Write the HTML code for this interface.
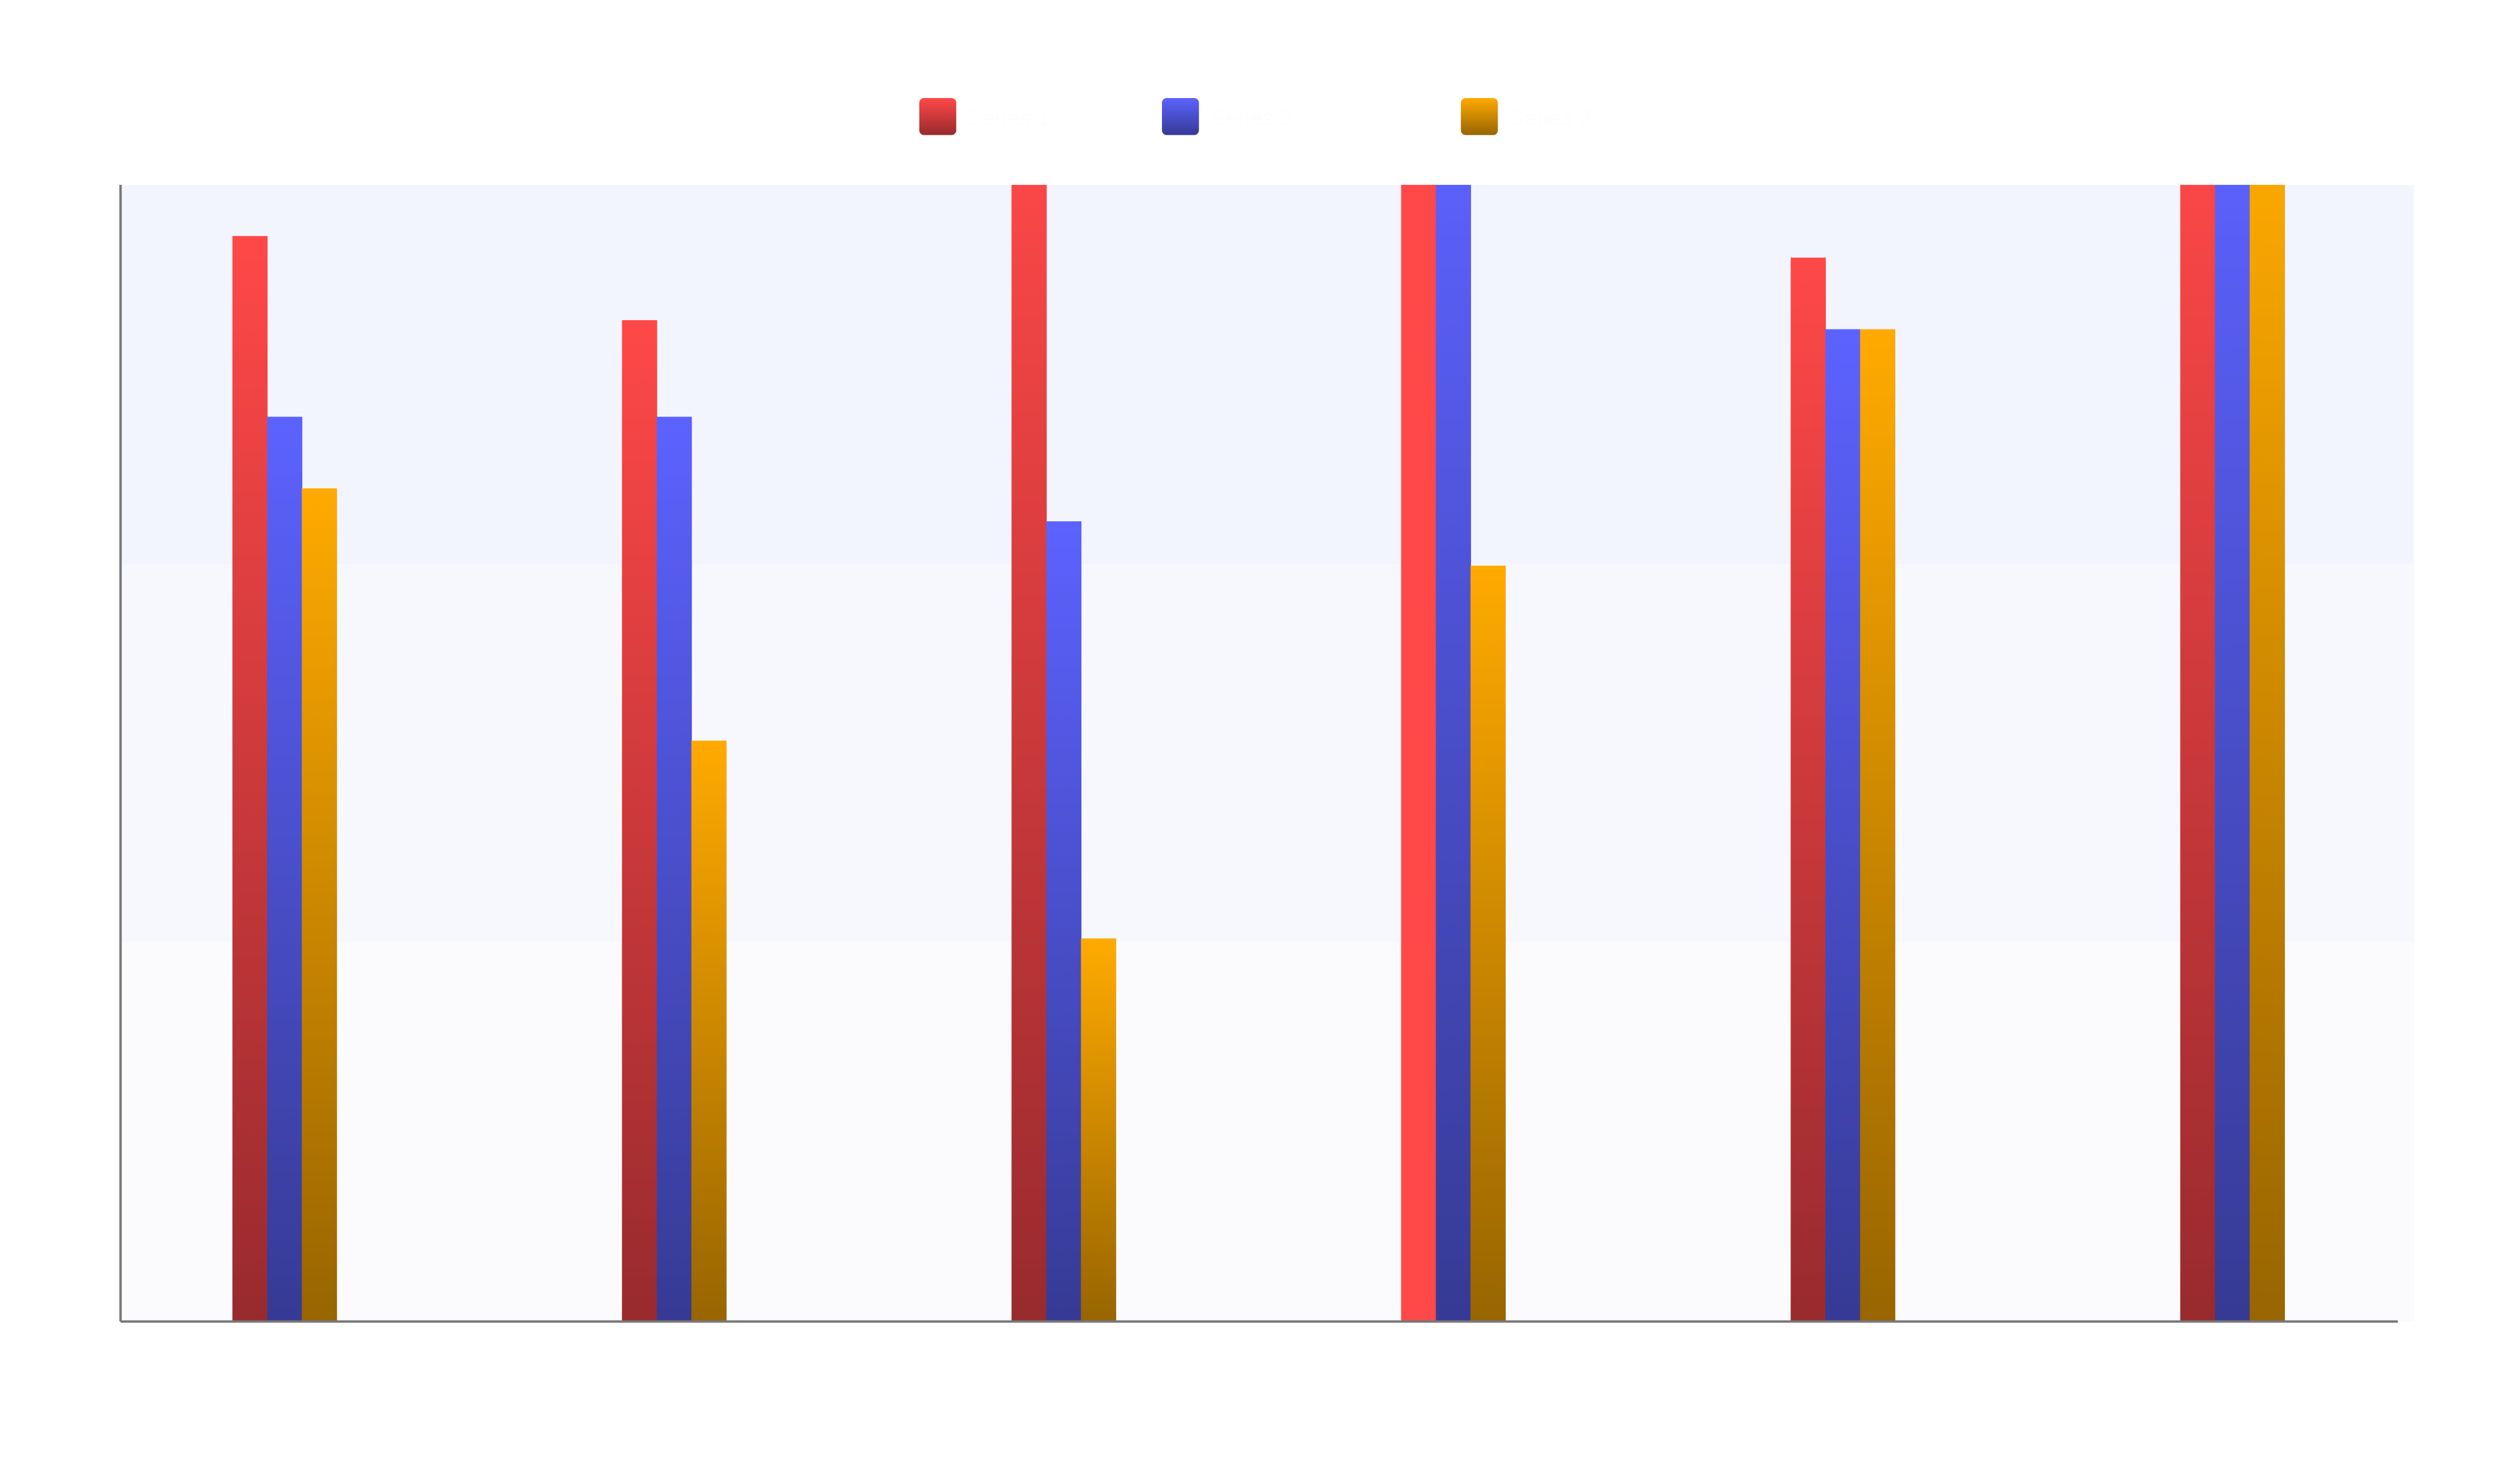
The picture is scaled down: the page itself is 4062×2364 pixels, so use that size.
<!DOCTYPE html>
<html><head><meta charset="utf-8"><style>
html,body{margin:0;padding:0;background:#fff;}
svg{display:block;font-family:"Liberation Sans",sans-serif;}
</style></head><body>
<svg id="chart" width="4062" height="2364" viewBox="0 0 1568 912.5" preserveAspectRatio="none" xmlns="http://www.w3.org/2000/svg">
<defs>
<linearGradient id="gr" x1="0" y1="0" x2="0" y2="1"><stop offset="0" stop-color="#ff4848"/><stop offset="1" stop-color="#982a2e"/></linearGradient>
<linearGradient id="gb" x1="0" y1="0" x2="0" y2="1"><stop offset="0" stop-color="#5c62ff"/><stop offset="1" stop-color="#363a94"/></linearGradient>
<linearGradient id="go" x1="0" y1="0" x2="0" y2="1"><stop offset="0" stop-color="#ffaa00"/><stop offset="1" stop-color="#986500"/></linearGradient>
<clipPath id="plotclip"><rect x="75" y="115" width="1430" height="707"/></clipPath>
</defs>
<g>
<rect x="75" y="115" width="1427" height="236" fill="#f2f5fe"/>
<rect x="75" y="351" width="1427" height="235" fill="#f7f8fe"/>
<rect x="75" y="586" width="1427" height="236" fill="#fbfbfe"/>
</g>
<g id="legend">
<g><rect x="572" y="61" width="23" height="23" rx="3" fill="url(#gr)"/><text x="602" y="78" font-size="14" fill="#fdfdfd">Series 1</text></g>
<g><rect x="723" y="61" width="23" height="23" rx="3" fill="url(#gb)"/><text x="753" y="78" font-size="14" fill="#fdfdfd">Series 2</text></g>
<g><rect x="909" y="61" width="23" height="23" rx="3" fill="url(#go)"/><text x="939" y="78" font-size="14" fill="#fdfdfd">Series 3</text></g>
</g>
<g id="bars" clip-path="url(#plotclip)"></g>
<line x1="75" y1="115" x2="75" y2="822" stroke="#777" stroke-width="1.5"/>
<line x1="75" y1="822" x2="1492" y2="822" stroke="#777" stroke-width="1.5"/>
</svg>
<script>
const categories = ["A","B","C","D","E","F"];
const series1 = [95.5, 88.1, 105, 105, 93.6, 105];
const series2 = [79.6, 79.6, 70.4, 105, 87.3, 105];
const series3 = [73.3, 51.1, 33.7, 66.5, 87.3, 105];
const seriesFills = ["url(#gr)","url(#gb)","url(#go)"];
const yMax = 100;
const plotTop = 115, plotBottom = 822;
function y(v){ return plotBottom - (v / yMax) * (plotBottom - plotTop); }
function xCenter(i){ return 177 + i * 242.4; }
const barW = 21.6;
const g = document.getElementById('bars');
const ns = 'http://www.w3.org/2000/svg';
const all = [series1, series2, series3];
categories.forEach((c, i) => {
  all.forEach((s, k) => {
    const r = document.createElementNS(ns, 'rect');
    const top = y(s[i]);
    r.setAttribute('x', xCenter(i) + (k - 1.5) * barW);
    r.setAttribute('y', top);
    r.setAttribute('width', barW + 0.3);
    r.setAttribute('height', plotBottom - top);
    let fill = seriesFills[k];
    if (i === 3 && k === 0) fill = '#ff4848';
    r.setAttribute('fill', fill);
    
    
    g.appendChild(r);
  });
});
</script>
</body></html>
